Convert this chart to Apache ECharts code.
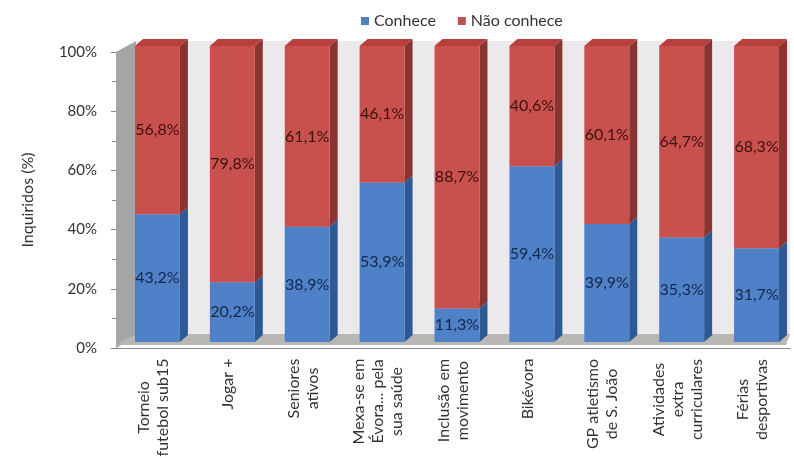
<!DOCTYPE html>
<html><head><meta charset="utf-8">
<script src="https://cdn.jsdelivr.net/npm/echarts@6/dist/echarts.min.js"></script>
<style>html,body{margin:0;padding:0;background:#fff}#c{width:794px;height:458px}</style>
</head><body><div id="c"></div>
<script>
const categories = ['Torneio\nfutebol sub15','Jogar +','Seniores\nativos','Mexa-se em\nÉvora... pela\nsua saúde','Inclusão em\nmovimento','Bikévora','GP atletismo\nde S. João','Atividades\nextra\ncurriculares','Férias\ndesportivas'];
const conhece = [43.2, 20.2, 38.9, 53.9, 11.3, 59.4, 39.9, 35.3, 31.7];
const naoConhece = [56.8, 79.8, 61.1, 46.1, 88.7, 40.6, 60.1, 64.7, 68.3];
const yTicks = [0, 20, 40, 60, 80, 100];

const FONT = 'Lato, "Noto Sans", sans-serif';
const CAT_FS = 16;
const DX = 4, DY = -6, DEPTH_X = 8, DEPTH_Y = 7;

function fmt(v){ return v.toFixed(1).replace('.', ',') + '%'; }

// rich styles so that the lines of each category label are centred within their block
const measure = document.createElement('canvas').getContext('2d');
measure.font = CAT_FS + 'px ' + FONT;
const catRich = {};
categories.forEach((c, i) => {
  const w = Math.max(...c.split('\n').map(l => measure.measureText(l).width));
  catRich['w' + i] = {width: Math.ceil(w) + 1, align: 'center', fontSize: CAT_FS, lineHeight: 19, color: '#333', fontFamily: FONT};
});

function make3D(front, side, top, labelColor){
  return function(params, api){
    const i = api.value(0), v0 = api.value(1), v1 = api.value(2);
    const p0 = api.coord([i, v0]), p1 = api.coord([i, v1]);
    const bw = api.size([1, 0])[0];
    const w = bw * 0.6;
    const x = p0[0] + DX - w / 2;
    const yb = p0[1] + DY, yt = p1[1] + DY;
    return {
      type: 'group',
      children: [
        {type:'polygon', shape:{points:[[x+w,yb],[x+w+DEPTH_X,yb-DEPTH_Y],[x+w+DEPTH_X,yt-DEPTH_Y],[x+w,yt]]}, style:{fill:side}},
        {type:'polygon', shape:{points:[[x,yt],[x+DEPTH_X,yt-DEPTH_Y],[x+w+DEPTH_X,yt-DEPTH_Y],[x+w,yt]]}, style:{fill:top}},
        {type:'rect', shape:{x:x, y:yt, width:w, height:yb-yt}, style:{fill:front}},
        {type:'text', style:{text:fmt(v1 - v0), x:x + w/2, y:(yb+yt)/2, align:'center', verticalAlign:'middle', fill:labelColor, font:'16px ' + FONT}}
      ]
    };
  };
}

function renderWalls(params, api){
  const bw = api.size([1, 0])[0];
  const n = categories.length;
  const b0 = api.coord([0, 0]), t0 = api.coord([0, 100]);
  const bl = api.coord([n - 1, 0]);
  const xl = b0[0] - bw / 2, xr = bl[0] + bw / 2;
  const yb = b0[1], yt = t0[1];
  const wx = 20, wy = 11;
  return {
    type:'group',
    children:[
      {type:'rect', shape:{x:xl+wx, y:yt-wy, width:xr-xl-wx, height:yb-yt}, style:{fill:'#ebe9ec'}},
      {type:'polygon', shape:{points:[[xl,yb],[xl,yt],[xl+wx,yt-wy],[xl+wx,yb-wy]]}, style:{fill:'#a3a5a6'}},
      {type:'polygon', shape:{points:[[xl,yb-3],[xl+wx,yb-wy-3],[xr,yb-wy-3],[xr-4,yb-3]]}, style:{fill:'#b9b7b3'}}
    ]
  };
}

const chart = echarts.init(document.getElementById('c'));
chart.setOption({
  animation: false,
  textStyle: {fontFamily: FONT},
  legend: {
    top: 8, left: 356, icon: 'rect', itemWidth: 8, itemHeight: 8, itemGap: 22,
    textStyle: {fontSize: 16, color: '#333', fontFamily: FONT},
    data: ['Conhece', 'Não conhece']
  },
  grid: {left: 116, right: 4, top: 52, bottom: 110, containLabel: false, outerBoundsMode: 'none'},
  xAxis: {
    type: 'category', data: categories,
    axisLine: {lineStyle: {color: '#8a8a8a'}},
    axisTick: {length: 5, lineStyle: {color: '#8a8a8a'}},
    axisLabel: {
      rotate: 90, fontSize: CAT_FS, lineHeight: 19, color: '#333', margin: 10, interval: 0, fontFamily: FONT,
      formatter: (val, idx) => val.split('\n').map(l => '{w' + idx + '|' + l + '}').join('\n'),
      rich: catRich
    }
  },
  yAxis: {
    type: 'value', min: 0, max: 100, interval: 20,
    name: 'Inquiridos (%)', nameLocation: 'middle', nameGap: 80,
    nameTextStyle: {fontSize: 16, color: '#333', fontFamily: FONT},
    axisLine: {show: true, lineStyle: {color: '#8a8a8a'}},
    axisTick: {show: true, length: 5, lineStyle: {color: '#8a8a8a'}},
    minorTick: {show: true, splitNumber: 2, length: 4, lineStyle: {color: '#8a8a8a'}},
    splitLine: {show: false},
    axisLabel: {formatter: v => yTicks.includes(v) ? v + '%' : '', fontSize: 15, color: '#333', margin: 19, fontFamily: FONT}
  },
  series: [
    {
      type: 'custom', name: 'walls', silent: true, z: 1,
      renderItem: renderWalls, data: [[0, 0]], encode: {x: 0, y: 1}
    },
    {
      type: 'custom', name: 'Conhece', z: 2,
      itemStyle: {color: '#4f81bd'},
      renderItem: make3D('#4f81c8', '#2d5a94', '#6f99d2', '#13284a'),
      data: conhece.map((v, i) => [i, 0, v]),
      encode: {x: 0, y: [1, 2]}
    },
    {
      type: 'custom', name: 'Não conhece', z: 3,
      itemStyle: {color: '#c0504d'},
      renderItem: make3D('#c9514d', '#8a3331', '#b7403d', '#3e0f0d'),
      data: naoConhece.map((v, i) => [i, conhece[i], conhece[i] + v]),
      encode: {x: 0, y: [1, 2]}
    }
  ]
});
</script></body></html>
